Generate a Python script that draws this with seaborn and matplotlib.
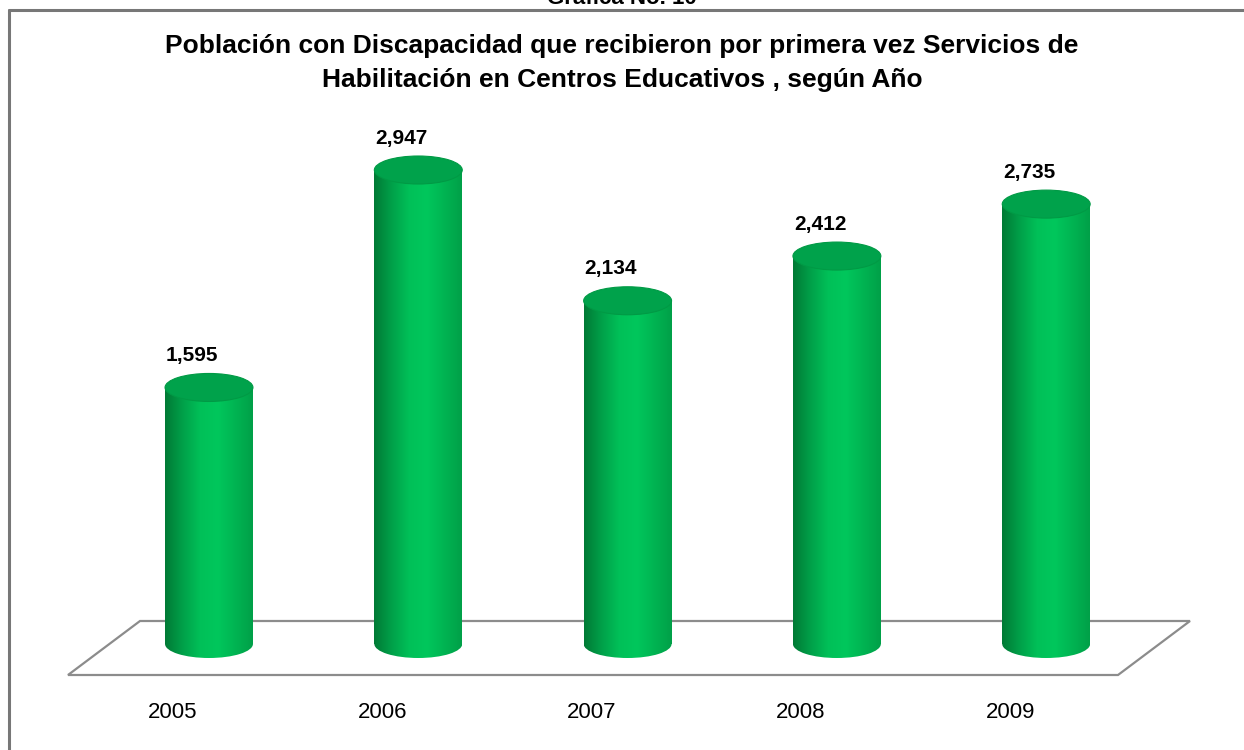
import numpy as np
import seaborn as sns
import matplotlib.pyplot as plt
from matplotlib.patches import Ellipse, Polygon
from matplotlib.colors import LinearSegmentedColormap

# data
years = ['2005', '2006', '2007', '2008', '2009']
values = [1595, 2947, 2134, 2412, 2735]
labels = ['1,595', '2,947', '2,134', '2,412', '2,735']

title_lines = ['Población con Discapacidad que recibieron por primera vez Servicios de',
               'Habilitación en Centros Educativos , según Año']

sns.set_style('white')
plt.rcParams['font.family'] = ['Liberation Sans', 'DejaVu Sans']
plt.rcParams['text.color'] = 'black'

W, H = 1244, 750
fig = plt.figure(figsize=(W / 100, H / 100), dpi=100)
ax = fig.add_axes([0, 0, 1, 1])

# pixel -> data mapping (category spacing and value scale)
x0, dx = 209, 209.3
y0, sy = 644, 0.16084
def px2x(px): return (px - x0) / dx
def py2y(py): return (y0 - py) / sy

bar_w = 0.42
sns.barplot(x=years, y=values, color='#00b050', width=bar_w, ax=ax, zorder=3)
ax.axis('off')

# floor of the 3D plot
floor = [(68, 675), (140, 621), (1190, 621), (1118, 675)]
floor = [(x / W, 1 - y / H) for x, y in floor]
ax.add_patch(Polygon(floor, closed=True, fill=False, edgecolor='#8c8c8c',
                     lw=1.6, transform=ax.transAxes, zorder=1))

# cylinder shading
cmap = LinearSegmentedColormap.from_list(
    'cyl', ['#007a35', '#00a049', '#00c058', '#00c75c', '#00b452', '#00a048'])
grad = np.linspace(0, 1, 256).reshape(1, -1)
ell_h = 28 / sy

for i, bar in enumerate(ax.patches[:len(values)]):
    bx, bw, top = bar.get_x(), bar.get_width(), bar.get_height()
    cx = bx + bw / 2
    bar.set_facecolor('none')
    bar.set_edgecolor('none')
    bottom = Ellipse((cx, 0), bw, ell_h, facecolor='none', edgecolor='none')
    ax.add_patch(bottom)
    for clip in (bar, bottom):
        im = ax.imshow(grad, cmap=cmap, aspect='auto',
                       extent=(bx, bx + bw, -ell_h, top), zorder=3)
        im.set_clip_path(clip)
    ax.add_patch(Ellipse((cx, top), bw, ell_h, facecolor='#00a24b',
                         edgecolor='#009a45', lw=0.8, zorder=4))
    ax.text(cx - 0.08, top + 32 / sy, labels[i], ha='center', va='center',
            fontsize=15, fontweight='bold', color='black', zorder=5)
    ax.text(cx - 0.172, py2y(713), years[i], ha='center', va='center',
            fontsize=16, color='black')

# keep the axes limits fixed after imshow
ax.set_xlim(px2x(0), px2x(W))
ax.set_ylim(py2y(H), py2y(0))

# titles
fig.text(622 / W, 1 - 4 / H, 'Gráfica No. 10', ha='center', va='baseline',
         fontsize=16, fontweight='bold', color='black')
for k, line in enumerate(title_lines):
    fig.text(622 / W, 1 - (53 + 34 * k) / H, line, ha='center', va='baseline',
             fontsize=19, fontweight='bold', color='black')

# chart border (top and left edges visible)
fig.add_artist(plt.Line2D([9 / W, 1], [1 - 10 / H, 1 - 10 / H],
                          color='#777777', lw=2.2))
fig.add_artist(plt.Line2D([9 / W, 9 / W], [0, 1 - 10 / H],
                          color='#777777', lw=2.2))

fig.savefig('out.png', dpi=100)
